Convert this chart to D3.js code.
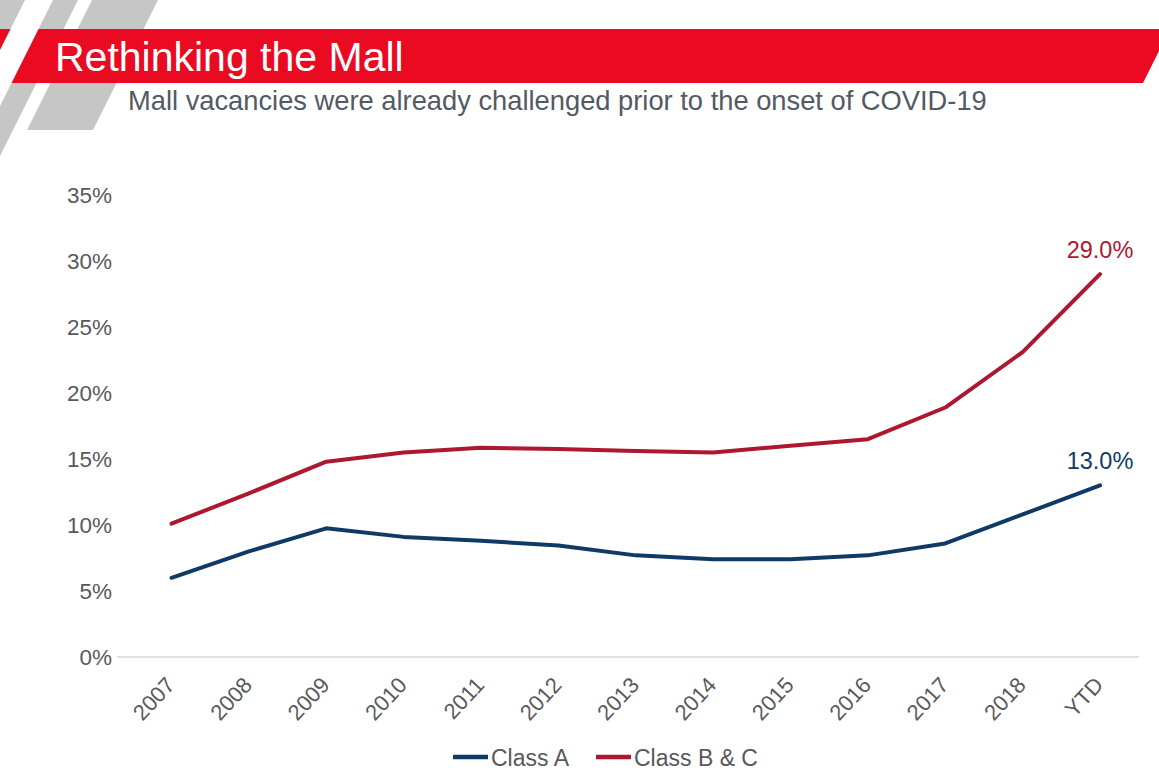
<!DOCTYPE html>
<html>
<head>
<meta charset="utf-8">
<script src="https://cdnjs.cloudflare.com/ajax/libs/d3/7.8.5/d3.min.js"></script>
<style>
    html, body { margin: 0; padding: 0; background: #fff; }
    svg { display: block; font-family: "Liberation Sans", Arial, sans-serif; }
</style>
</head>
<body>
<svg id="chart" width="1159" height="784"></svg>
<script>
const categories = ["2007", "2008", "2009", "2010", "2011", "2012", "2013", "2014", "2015", "2016", "2017", "2018", "YTD"];
const classA = [6.0, 8.0, 9.75, 9.1, 8.8, 8.45, 7.7, 7.4, 7.4, 7.7, 8.6, 10.8, 13.0];
const classBC = [10.1, 12.4, 14.8, 15.5, 15.85, 15.75, 15.6, 15.5, 16.0, 16.5, 18.9, 23.1, 29.0];
const yTicks = [0, 5, 10, 15, 20, 25, 30, 35];
const seriesNames = ["Class A", "Class B & C"];
const seriesColors = ["#0f3a66", "#ad1730"];

const title = "Rethinking the Mall";
const subtitle = "Mall vacancies were already challenged prior to the onset of COVID-19";

const svg = d3.select("#chart");
const textColor = "#595959";

// header decoration
const deco = svg.append("g");
deco.append("polygon")
    .attr("points", "0,0 78,0 0,156")
    .attr("fill", "#c6c6c6");
deco.append("polygon")
    .attr("points", "92,0 158,0 93,130 27,130")
    .attr("fill", "#c6c6c6");
deco.append("polygon")
    .attr("points", "0,29 1170,29 1143,83 0,83")
    .attr("fill", "#ea0a22");
deco.append("polygon")
    .attr("points", "25,0 53,0 0,106 0,50")
    .attr("fill", "#fff");

svg.append("text")
    .attr("x", 55)
    .attr("y", 71)
    .attr("fill", "#fff")
    .attr("font-size", 41)
    .text(title);

svg.append("text")
    .attr("x", 128)
    .attr("y", 110)
    .attr("fill", "#525a63")
    .attr("font-size", 27.3)
    .text(subtitle);

// scales
const x = d3.scalePoint()
    .domain(categories)
    .range([171.5, 1100]);

const y = d3.scaleLinear()
    .domain([0, 35])
    .range([657, 195]);

// y axis labels
const yAxis = svg.append("g")
    .attr("transform", "translate(112,0)")
    .call(d3.axisLeft(y).tickValues(yTicks).tickFormat(d => d + "%").tickSize(0).tickPadding(0));
yAxis.select(".domain").remove();
yAxis.selectAll("text")
    .attr("fill", textColor)
    .attr("font-size", 22.5)
    .attr("font-family", "Liberation Sans, Arial, sans-serif");

// baseline
svg.append("line")
    .attr("x1", 117)
    .attr("x2", 1139)
    .attr("y1", y(0))
    .attr("y2", y(0))
    .attr("stroke", "#d9d9d9")
    .attr("stroke-width", 1.5);

// x axis labels
const xAxis = svg.append("g")
    .attr("transform", "translate(0," + y(0) + ")")
    .call(d3.axisBottom(x).tickSize(0).tickPadding(0));
xAxis.select(".domain").remove();
xAxis.selectAll("text")
    .attr("fill", textColor)
    .attr("font-size", 22)
    .attr("font-family", "Liberation Sans, Arial, sans-serif")
    .attr("dy", null)
    .attr("y", 0)
    .attr("text-anchor", "end")
    .attr("transform", "translate(4,29) rotate(-47)");

// lines
const line = d3.line()
    .x((d, i) => x(categories[i]))
    .y(d => y(d));

[classA, classBC].forEach((vals, k) => {
    svg.append("path")
        .datum(vals)
        .attr("fill", "none")
        .attr("stroke", seriesColors[k])
        .attr("stroke-width", 4)
        .attr("stroke-linejoin", "round")
        .attr("stroke-linecap", "round")
        .attr("d", line);

    const last = vals.length - 1;
    svg.append("text")
        .attr("x", x(categories[last]))
        .attr("y", y(vals[last]) - 16)
        .attr("text-anchor", "middle")
        .attr("fill", seriesColors[k])
        .attr("font-size", 23.5)
        .text(vals[last].toFixed(1) + "%");
});

// legend
const legendItems = [
    { x: 453, name: seriesNames[0], color: seriesColors[0] },
    { x: 596, name: seriesNames[1], color: seriesColors[1] }
];
const legend = svg.append("g").attr("transform", "translate(0,757)");
legendItems.forEach(item => {
    legend.append("line")
        .attr("x1", item.x)
        .attr("x2", item.x + 35)
        .attr("y1", 0)
        .attr("y2", 0)
        .attr("stroke", item.color)
        .attr("stroke-width", 4.5);
    legend.append("text")
        .attr("x", item.x + 38)
        .attr("y", 8.5)
        .attr("fill", textColor)
        .attr("font-size", 23)
        .text(item.name);
});
</script>
</body>
</html>
